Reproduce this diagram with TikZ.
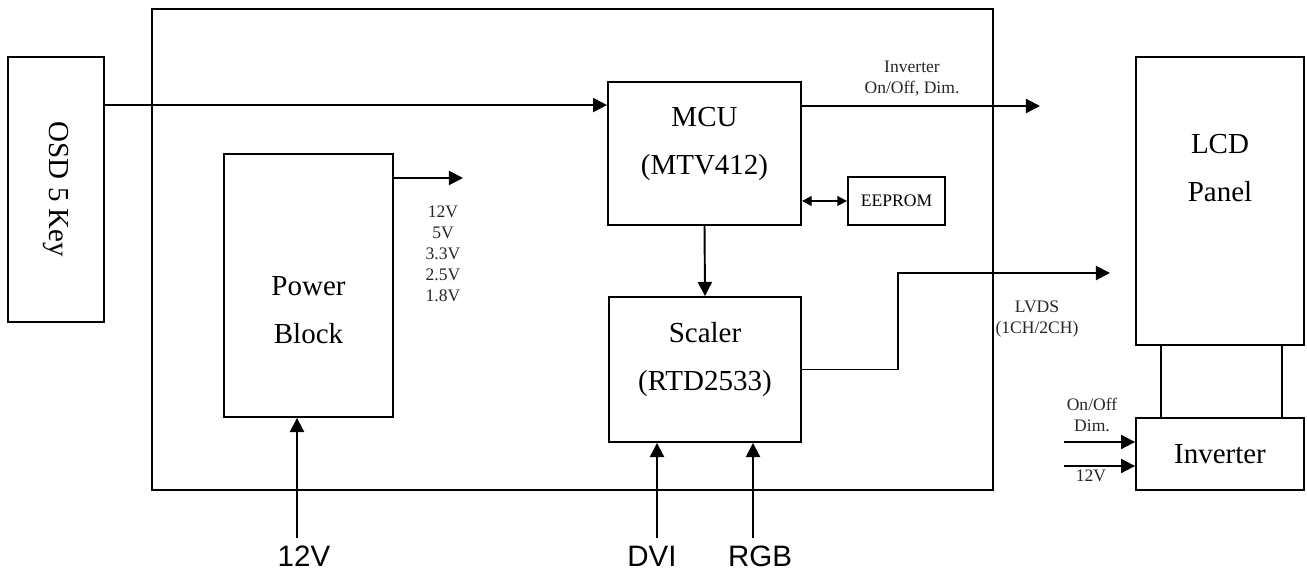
\documentclass[tikz,border=0pt]{standalone}
\usepackage{fontspec}
\setmainfont{Liberation Serif}
\newfontfamily\arialfont{Liberation Sans}
\usetikzlibrary{arrows.meta, positioning, calc}

\tikzset{
  blk/.style={draw, line width=1.1pt, inner sep=0pt},
  bigtxt/.style={font=\fontsize{16.5}{27.3}\selectfont, align=center, inner sep=0pt},
  smalltxt/.style={font=\fontsize{10}{12}\selectfont, align=center, inner sep=0pt, text=black!85},
  sanstxt/.style={font=\arialfont\fontsize{16.8}{20}\selectfont, inner sep=0pt, anchor=base},
  wire/.style={line width=1.1pt},
  arr/.style={wire, -{Triangle[length=8pt,width=8pt]}},
  darr/.style={wire, {Triangle[length=5.5pt,width=5.5pt]}-{Triangle[length=5.5pt,width=5.5pt]}},
}

\begin{document}
\begin{tikzpicture}[x=0.02cm, y=-0.02cm]
  \useasboundingbox (0,0) rectangle (1307,571);

  % Main board
  \node[blk, minimum width=16.82cm, minimum height=9.62cm] (board) at (572.5,249.5) {};

  % OSD keys
  \node[blk, minimum width=1.92cm, minimum height=5.3cm] (osd) at (56,189.5) {};
  \node[bigtxt, rotate=-90] (osdtxt) at (osd.center) {OSD 5 Key};

  % Blocks on the board
  \node[blk, minimum width=3.86cm, minimum height=2.86cm] (mcu) at (704.5,153.5) {};
  \node[bigtxt] (mcutxt) at ($(mcu)+(0,-9.5)$) {MCU\\(MTV412)};

  \node[blk, bigtxt, font=\fontsize{10}{12}\selectfont, minimum width=1.94cm, minimum height=0.96cm] (eeprom) at (896.5,201) {EEPROM};

  \node[blk, minimum width=3.38cm, minimum height=5.26cm] (power) at (308.5,285.5) {};
  \node[bigtxt] (powertxt) at ($(power)+(0,25)$) {Power\\Block};

  \node[blk, minimum width=3.84cm, minimum height=2.9cm] (scaler) at (705,369.5) {};
  \node[bigtxt] (scalertxt) at ($(scaler)+(0,-10)$) {Scaler\\(RTD2533)};

  % Panel side
  \node[blk, minimum width=3.36cm, minimum height=5.76cm] (lcd) at (1220,201) {};
  \node[bigtxt] (lcdtxt) at ($(lcd)+(0,-33)$) {LCD\\Panel};

  \node[blk, bigtxt, minimum width=3.36cm, minimum height=1.44cm] (inv) at (1220,454) {Inverter};

  % Free ends
  \coordinate (keyin) at ($(osd.north east)+(0,49)$);
  \coordinate (invctl) at (1040,106);
  \coordinate (pwrout) at (463,178);
  \coordinate (lvdsend) at (1110,273);
  \coordinate (pwrin) at (297,538);
  \coordinate (dviin) at (657,538);
  \coordinate (rgbin) at (753,538);
  \coordinate (dimin) at (1064,442);
  \coordinate (vccin) at (1064,466);

  % Connectors
  \draw[arr] (keyin) -- (keyin -| mcu.west);
  \draw[arr] (invctl -| mcu.east) -- (invctl);
  \draw[darr] (mcu.east |- eeprom.west) -- (eeprom.west);
  \draw[arr] (mcu.south) -- (scaler.north);
  \draw[arr] (pwrout -| power.east) -- (pwrout);
  \draw[arr] (scaler.east) -- ++(96,0) |- (lvdsend);
  \draw[arr] (pwrin) -- (pwrin |- power.south);
  \draw[arr] (dviin) -- (dviin |- scaler.south);
  \draw[arr] (rgbin) -- (rgbin |- scaler.south);
  \draw[arr] (dimin) -- (dimin -| inv.west);
  \draw[arr] (vccin) -- (vccin -| inv.west);
  \draw[wire] ($(lcd.south west)+(26,0)$) -- ($(inv.north west)+(26,0)$);
  \draw[wire] ($(lcd.south east)+(-23,0)$) -- ($(inv.north east)+(-23,0)$);

  % Signal labels
  \node[smalltxt] (invctltxt) at (912,79) {Inverter\\On/Off, Dim.};
  \node[smalltxt] (railstxt) at (443,254) {12V\\5V\\3.3V\\2.5V\\1.8V};
  \node[smalltxt] (lvdstxt) at (1037,319) {LVDS\\(1CH/2CH)};
  \node[smalltxt] (dimtxt) at (1092,415) {On/Off\\Dim.};
  \node[smalltxt] (vcctxt) at (1091,476) {12V};

  % Inputs
  \node[sanstxt] (pwrtxt) at (304,566) {12V};
  \node[sanstxt] (dvitxt) at (652,566) {DVI};
  \node[sanstxt] (rgbtxt) at (760,566) {RGB};
\end{tikzpicture}
\end{document}
